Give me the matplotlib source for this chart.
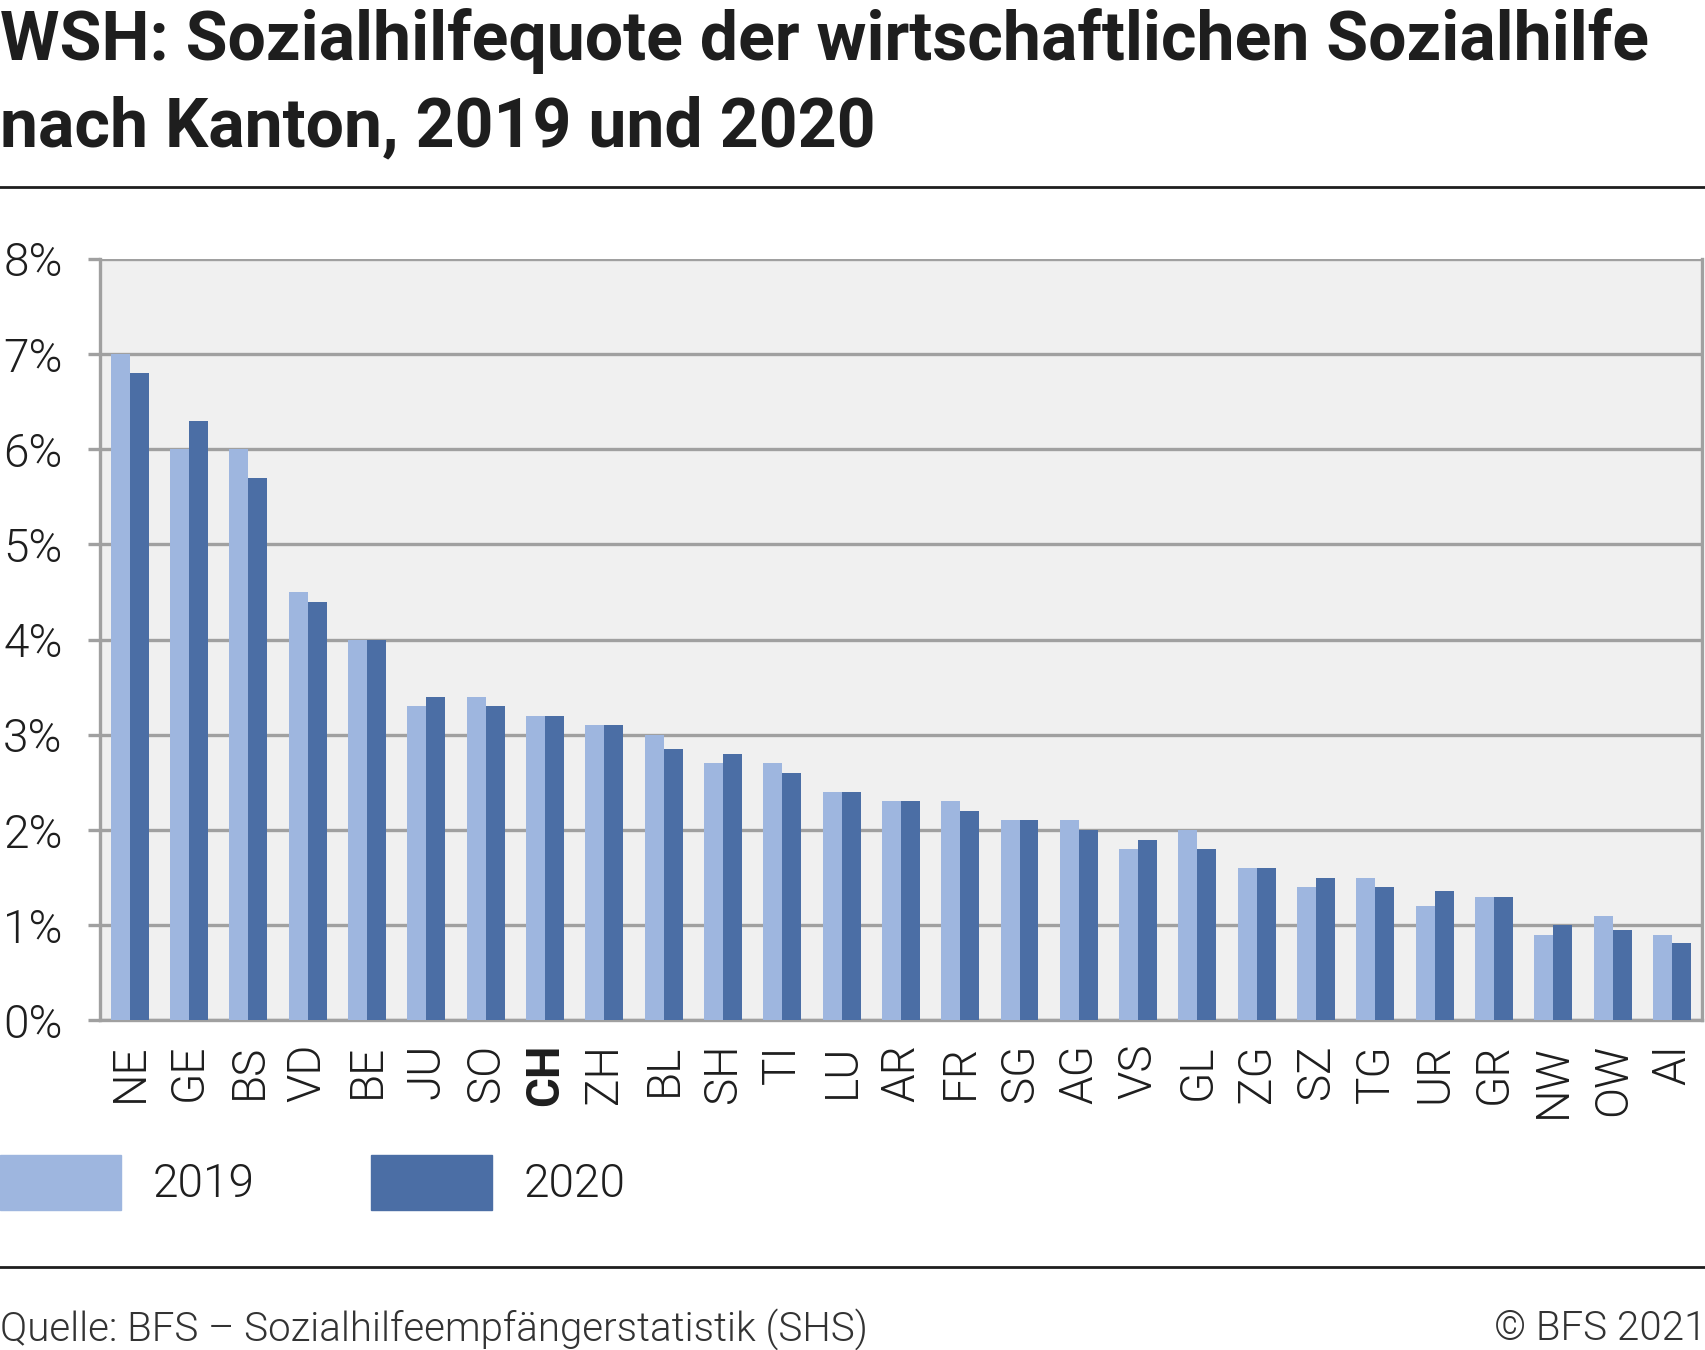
import matplotlib.pyplot as plt
from matplotlib.patches import Rectangle
from matplotlib.lines import Line2D
import numpy as np

plt.rcParams['font.family'] = ['Roboto', 'DejaVu Sans']

# Daten
kantone = ["NE", "GE", "BS", "VD", "BE", "JU", "SO", "CH", "ZH", "BL", "SH", "TI", "LU", "AR",
           "FR", "SG", "AG", "VS", "GL", "ZG", "SZ", "TG", "UR", "GR", "NW", "OW", "AI"]
quote_2019 = [7.0, 6.0, 6.0, 4.5, 4.0, 3.3, 3.4, 3.2, 3.1, 3.0, 2.7, 2.7, 2.4, 2.3,
              2.3, 2.1, 2.1, 1.8, 2.0, 1.6, 1.4, 1.5, 1.2, 1.3, 0.9, 1.1, 0.9]
quote_2020 = [6.8, 6.3, 5.7, 4.4, 4.0, 3.4, 3.3, 3.2, 3.1, 2.85, 2.8, 2.6, 2.4, 2.3,
              2.2, 2.1, 2.0, 1.9, 1.8, 1.6, 1.5, 1.4, 1.36, 1.3, 1.0, 0.95, 0.81]
jahre = ["2019", "2020"]
y_ticks = [0, 1, 2, 3, 4, 5, 6, 7, 8]

farbe_2019 = "#9eb6df"
farbe_2020 = "#4b6ea5"
grau = "#a0a0a0"
text_farbe = "#1e1e1e"
leicht = 300

W, H = 1568, 1241  # Referenzkoordinaten

fig = plt.figure(figsize=(17.06, 13.5), dpi=100)
ax = fig.add_axes([92 / W, 1 - 938 / H, (1564 - 92) / W, (938 - 238) / H])
ax.set_facecolor("#f0f0f0")

x = np.arange(len(kantone))
b = 0.32
ax.bar(x - b / 2, quote_2019, width=b, color=farbe_2019, zorder=3)
ax.bar(x + b / 2, quote_2020, width=b, color=farbe_2020, zorder=3)

ax.set_xlim(-0.5, len(kantone) - 0.5)
ax.set_ylim(0, 8)
ax.set_yticks(y_ticks)
ax.set_yticklabels([f"{t}%" for t in y_ticks], fontweight=leicht)
ax.yaxis.grid(True, color=grau, linewidth=2.4, zorder=1)
for s in ax.spines.values():
    s.set_color(grau)
    s.set_linewidth(2.4)
ax.spines["top"].set_visible(False)

ax.set_xticks(x)
ax.set_xticklabels(kantone, rotation=90, fontweight=leicht)
ax.tick_params(axis="x", length=0, pad=17, labelsize=33, labelcolor=text_farbe)
ax.tick_params(axis="y", length=9, width=2.4, color=grau, pad=18, labelsize=33,
               labelcolor=text_farbe)
for lab in ax.get_xticklabels():
    if lab.get_text() == "CH":
        lab.set_fontweight("bold")

# Titel
fig.text(0, 1 - 55 / H, "WSH: Sozialhilfequote der wirtschaftlichen Sozialhilfe",
         fontsize=49, fontweight="bold", color=text_farbe, va="baseline", ha="left")
fig.text(0, 1 - 135 / H, "nach Kanton, 2019 und 2020",
         fontsize=49, fontweight="bold", color=text_farbe, va="baseline", ha="left")

# Linien
fig.add_artist(Line2D([0, 1], [1 - 172 / H, 1 - 172 / H], color=text_farbe, linewidth=2))
fig.add_artist(Line2D([0, 1], [1 - 1165 / H, 1 - 1165 / H], color=text_farbe, linewidth=2))

# Legende
for i, (jahr, farbe) in enumerate(zip(jahre, [farbe_2019, farbe_2020])):
    x0 = [0, 341][i]
    fig.patches.append(Rectangle((x0 / W, 1 - 1112 / H), 111 / W, 50 / H,
                                 transform=fig.transFigure, color=farbe))
    fig.text((x0 + 140) / W, 1 - 1088 / H, jahr, fontsize=33, color=text_farbe,
             va="center", ha="left", fontweight=leicht)

# Fusszeile
fig.text(0, 1 - 1232 / H, "Quelle: BFS – Sozialhilfeempfängerstatistik (SHS)",
         fontsize=29, color="#333333", va="baseline", ha="left", fontweight=leicht)
fig.text(1, 1 - 1232 / H, "© BFS 2021", fontsize=29, color="#333333",
         va="baseline", ha="right", fontweight=leicht)

plt.savefig("out.png", dpi=100)
